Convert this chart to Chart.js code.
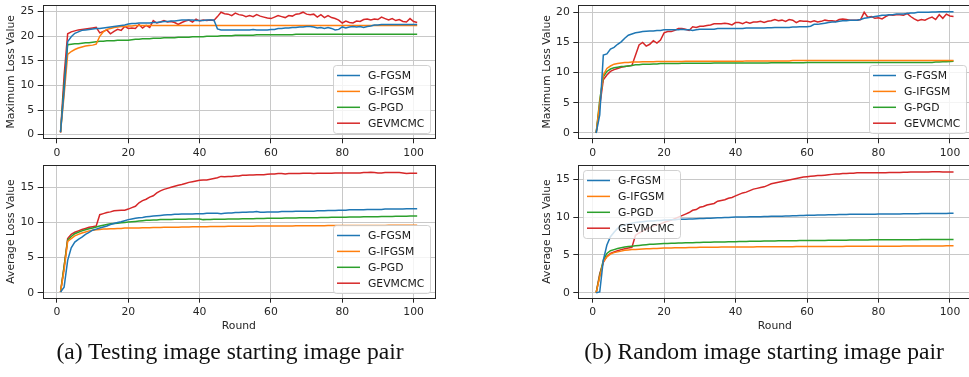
<!DOCTYPE html>
<html><head><meta charset="utf-8">
<script src="https://cdn.jsdelivr.net/npm/chart.js@4.4.1/dist/chart.umd.min.js"></script>
<style>
html,body{margin:0;padding:0;width:969px;height:377px;overflow:hidden;background:#fff}
canvas{position:absolute}
.cap{position:absolute;font-family:"Liberation Serif","Times New Roman",serif;font-size:23.6px;line-height:26px;color:#111;white-space:nowrap;text-align:center}
</style></head><body>
<canvas id="tl" width="445" height="165" style="left:0;top:0;width:445px;height:165px"></canvas>
<canvas id="tr" width="445" height="165" style="left:536px;top:0;width:445px;height:165px"></canvas>
<canvas id="bl" width="445" height="180" style="left:0;top:160px;width:445px;height:180px"></canvas>
<canvas id="br" width="445" height="180" style="left:536px;top:160px;width:445px;height:180px"></canvas>
<div class="cap" style="left:30px;top:338px;width:400px">(a) Testing image starting image pair</div>
<div class="cap" style="left:564px;top:338px;width:400px">(b) Random image starting image pair</div>
<script>
// ---------- data ----------
const seriesNames = ["G-FGSM", "G-IFGSM", "G-PGD", "GEVMCMC"];
const rounds = Array.from({length: 101}, (_, i) => i + 1);
const xTicks = [0, 20, 40, 60, 80, 100];
const yTicksMaxTest = [0, 5, 10, 15, 20, 25];
const yTicksMaxRand = [0, 5, 10, 15, 20];
const yTicksAvg = [0, 5, 10, 15];

// (a) maximum loss, testing image start
const fgsmMaxTest = [
0.5, 9.0, 18.9, 19.9, 20.6, 20.9, 21.2, 21.3, 21.4, 21.5,
21.6, 21.6, 21.7, 21.8, 21.9, 22.0, 22.1, 22.2, 22.3, 22.5,
22.6, 22.6, 22.7, 22.7, 22.7, 22.7, 22.8, 22.8, 22.9, 23.0,
23.0, 23.1, 23.1, 23.2, 23.3, 23.3, 23.3, 23.3, 23.2, 23.2,
23.2, 23.3, 23.3, 23.3, 21.5, 21.3, 21.3, 21.3, 21.3, 21.3,
21.3, 21.3, 21.3, 21.3, 21.4, 21.3, 21.3, 21.3, 21.3, 21.4,
21.4, 21.6, 21.6, 21.7, 21.7, 21.8, 21.8, 21.9, 21.9, 22.0,
22.0, 21.9, 21.7, 21.8, 21.6, 21.8, 21.6, 21.3, 21.4, 21.9,
21.7, 21.9, 22.0, 21.9, 22.0, 21.8, 22.0, 22.1, 22.3, 22.3,
22.4, 22.4, 22.4, 22.4, 22.4, 22.4, 22.4, 22.4, 22.4, 22.4,
22.4];
const ifgsmMaxTest = [
0.5, 8.0, 16.3, 16.9, 17.3, 17.6, 17.8, 18.0, 18.1, 18.2,
18.4, 20.0, 20.9, 21.4, 21.6, 21.8, 21.9, 22.0, 22.0, 22.1,
22.1, 22.2, 22.2, 22.2, 22.2, 22.2, 22.2, 22.2, 22.2, 22.2,
22.2, 22.2, 22.2, 22.2, 22.2, 22.2, 22.2, 22.2, 22.2, 22.2,
22.2, 22.2, 22.2, 22.2, 22.2, 22.2, 22.2, 22.2, 22.2, 22.2,
22.2, 22.2, 22.2, 22.2, 22.2, 22.2, 22.2, 22.2, 22.2, 22.2,
22.2, 22.2, 22.2, 22.2, 22.2, 22.2, 22.2, 22.2, 22.2, 22.2,
22.2, 22.2, 22.2, 22.2, 22.2, 22.2, 22.2, 22.2, 22.2, 22.2,
22.2, 22.2, 22.2, 22.2, 22.2, 22.2, 22.2, 22.2, 22.2, 22.2,
22.2, 22.2, 22.2, 22.2, 22.2, 22.2, 22.2, 22.2, 22.2, 22.2,
22.2];
const pgdMaxTest = [
0.5, 10.0, 18.3, 18.4, 18.5, 18.5, 18.6, 18.7, 18.7, 18.8,
18.9, 19.0, 19.0, 19.1, 19.1, 19.1, 19.2, 19.2, 19.2, 19.2,
19.3, 19.4, 19.4, 19.5, 19.5, 19.5, 19.6, 19.6, 19.6, 19.7,
19.7, 19.7, 19.7, 19.8, 19.8, 19.8, 19.8, 19.9, 19.9, 19.9,
19.9, 20.0, 20.0, 20.0, 20.0, 20.1, 20.1, 20.1, 20.1, 20.2,
20.2, 20.2, 20.2, 20.2, 20.2, 20.3, 20.3, 20.3, 20.3, 20.3,
20.3, 20.3, 20.3, 20.3, 20.3, 20.3, 20.4, 20.4, 20.4, 20.4,
20.4, 20.4, 20.4, 20.4, 20.4, 20.4, 20.4, 20.4, 20.4, 20.4,
20.4, 20.4, 20.4, 20.4, 20.4, 20.4, 20.4, 20.4, 20.4, 20.4,
20.4, 20.4, 20.4, 20.4, 20.4, 20.4, 20.4, 20.4, 20.4, 20.4,
20.4];
const gevMaxTest = [
0.4, 12.0, 20.5, 20.9, 21.1, 21.3, 21.4, 21.5, 21.6, 21.7,
21.8, 20.7, 21.0, 21.3, 20.5, 21.0, 21.4, 21.2, 22.0, 21.6,
21.7, 21.6, 22.4, 21.7, 22.2, 21.8, 23.2, 22.7, 22.9, 23.2,
22.9, 23.0, 22.8, 22.4, 22.8, 23.1, 23.3, 22.9, 23.5, 23.1,
23.3, 23.2, 23.3, 23.2, 24.0, 24.9, 24.6, 24.5, 24.2, 24.7,
24.4, 24.3, 24.0, 24.2, 24.0, 24.4, 24.1, 23.9, 23.7, 23.6,
23.9, 24.2, 24.0, 23.8, 24.2, 24.1, 24.5, 24.6, 24.9, 24.5,
24.4, 24.5, 23.9, 24.4, 23.8, 24.2, 23.8, 23.6, 23.3, 22.7,
23.1, 22.8, 22.7, 23.1, 23.0, 23.4, 23.5, 23.3, 23.5, 23.4,
23.9, 23.6, 23.3, 23.6, 23.2, 23.4, 23.0, 22.9, 23.6, 23.0,
22.8];

// (b) maximum loss, random image start
const fgsmMaxRand = [
0.0, 3.0, 12.9, 13.1, 13.9, 14.2, 14.7, 15.1, 15.7, 16.2,
16.4, 16.6, 16.7, 16.8, 16.85, 16.9, 16.9, 17.0, 17.0, 17.1,
17.1, 17.1, 17.1, 17.1, 17.2, 17.1, 17.1, 17.0, 17.1, 17.2,
17.2, 17.2, 17.2, 17.2, 17.3, 17.3, 17.3, 17.3, 17.3, 17.3,
17.3, 17.3, 17.4, 17.4, 17.4, 17.4, 17.4, 17.4, 17.45, 17.45,
17.5, 17.5, 17.5, 17.5, 17.5, 17.55, 17.55, 17.6, 17.6, 17.6,
17.7, 18.0, 18.0, 18.1, 18.2, 18.3, 18.4, 18.4, 18.5, 18.6,
18.6, 18.7, 18.7, 18.7, 18.8, 19.0, 19.1, 19.2, 19.3, 19.4,
19.5, 19.5, 19.6, 19.6, 19.7, 19.7, 19.7, 19.8, 19.9, 19.9,
20.0, 20.0, 20.0, 20.0, 20.05, 20.05, 20.1, 20.1, 20.1, 20.1,
20.1];
const ifgsmMaxRand = [
0.0, 5.0, 9.6, 10.7, 11.1, 11.4, 11.5, 11.6, 11.7, 11.7,
11.75, 11.75, 11.75, 11.8, 11.8, 11.8, 11.8, 11.85, 11.85, 11.85,
11.85, 11.85, 11.85, 11.85, 11.85, 11.9, 11.9, 11.9, 11.9, 11.9,
11.9, 11.9, 11.9, 11.9, 11.9, 11.9, 11.9, 11.9, 11.9, 11.9,
11.9, 11.9, 11.95, 11.95, 11.95, 11.95, 11.95, 11.95, 11.95, 11.95,
11.95, 11.95, 11.95, 11.95, 11.95, 12.0, 12.0, 12.0, 12.0, 12.0,
12.0, 12.0, 12.0, 12.0, 12.0, 12.0, 12.0, 12.0, 12.0, 12.0,
12.0, 12.0, 12.0, 12.0, 12.0, 12.0, 12.0, 12.0, 12.0, 12.0,
12.0, 12.0, 12.0, 12.0, 12.0, 12.0, 12.0, 12.0, 12.0, 12.0,
12.0, 12.0, 12.0, 12.0, 12.0, 12.0, 12.0, 12.0, 12.0, 12.0,
12.0];
const pgdMaxRand = [
0.0, 5.5, 9.3, 10.2, 10.6, 10.8, 10.9, 11.0, 11.0, 11.1,
11.2, 11.3, 11.3, 11.4, 11.4, 11.4, 11.45, 11.45, 11.5, 11.5,
11.5, 11.5, 11.5, 11.5, 11.55, 11.55, 11.55, 11.55, 11.55, 11.55,
11.55, 11.55, 11.55, 11.6, 11.6, 11.6, 11.6, 11.6, 11.6, 11.6,
11.6, 11.6, 11.6, 11.6, 11.6, 11.6, 11.6, 11.6, 11.6, 11.65,
11.65, 11.65, 11.65, 11.65, 11.65, 11.65, 11.65, 11.65, 11.65, 11.7,
11.7, 11.7, 11.7, 11.7, 11.7, 11.7, 11.7, 11.7, 11.7, 11.7,
11.7, 11.7, 11.7, 11.7, 11.7, 11.7, 11.7, 11.7, 11.7, 11.7,
11.7, 11.7, 11.7, 11.7, 11.7, 11.7, 11.7, 11.7, 11.7, 11.7,
11.7, 11.7, 11.7, 11.7, 11.7, 11.75, 11.75, 11.8, 11.8, 11.85,
11.9];
const gevMaxRand = [
0.0, 4.5, 8.8, 9.6, 10.2, 10.5, 10.7, 10.9, 11.0, 11.1,
11.2, 12.9, 14.6, 15.0, 14.4, 14.7, 15.3, 14.9, 15.4, 16.6,
16.8, 16.8, 17.0, 17.3, 17.3, 17.2, 17.0, 17.6, 17.5, 17.7,
17.7, 17.8, 17.9, 18.1, 18.1, 18.1, 18.2, 18.1, 17.9, 18.3,
18.3, 18.1, 18.4, 18.2, 18.4, 18.4, 18.5, 18.3, 18.5, 18.6,
18.8, 18.6, 18.7, 18.5, 18.8, 18.7, 18.3, 18.6, 18.5, 18.5,
18.4, 18.6, 18.4, 18.5, 18.7, 18.6, 18.6, 18.5, 18.8, 18.9,
18.8, 18.7, 18.7, 18.7, 18.8, 20.0, 19.2, 19.3, 19.0, 19.1,
18.9, 19.3, 19.6, 19.5, 19.6, 19.6, 19.5, 19.8, 19.3, 18.9,
18.6, 18.8, 18.7, 19.0, 19.2, 18.8, 19.6, 19.0, 19.7, 19.4,
19.3];

// (a) average loss, testing image start
const fgsmAvgTest = [
0.1, 0.8, 4.6, 6.4, 7.2, 7.6, 7.9, 8.3, 8.6, 8.9,
9.05, 9.2, 9.35, 9.5, 9.7, 9.85, 10.0, 10.1, 10.25, 10.4,
10.5, 10.6, 10.65, 10.7, 10.8, 10.85, 10.9, 10.95, 11.0, 11.05,
11.1, 11.1, 11.15, 11.15, 11.2, 11.2, 11.2, 11.2, 11.25, 11.25,
11.25, 11.3, 11.3, 11.3, 11.3, 11.25, 11.3, 11.35, 11.35, 11.4,
11.4, 11.45, 11.45, 11.5, 11.5, 11.55, 11.45, 11.45, 11.5, 11.5,
11.5, 11.5, 11.55, 11.55, 11.55, 11.55, 11.6, 11.6, 11.6, 11.6,
11.6, 11.6, 11.65, 11.65, 11.65, 11.7, 11.7, 11.7, 11.75, 11.75,
11.75, 11.8, 11.8, 11.8, 11.8, 11.8, 11.85, 11.85, 11.85, 11.85,
11.85, 11.9, 11.9, 11.9, 11.9, 11.9, 11.9, 11.95, 11.95, 11.95,
11.95];
const ifgsmAvgTest = [
0.1, 3.2, 7.3, 7.7, 8.1, 8.3, 8.5, 8.65, 8.8, 8.9,
8.95, 9.0, 9.05, 9.05, 9.1, 9.1, 9.15, 9.15, 9.2, 9.2,
9.2, 9.2, 9.22, 9.24, 9.25, 9.26, 9.27, 9.28, 9.29, 9.3,
9.3, 9.31, 9.32, 9.33, 9.34, 9.35, 9.36, 9.37, 9.38, 9.4,
9.4, 9.4, 9.41, 9.42, 9.42, 9.43, 9.43, 9.44, 9.44, 9.45,
9.45, 9.46, 9.46, 9.47, 9.47, 9.48, 9.48, 9.49, 9.49, 9.5,
9.5, 9.5, 9.5, 9.51, 9.51, 9.51, 9.52, 9.52, 9.52, 9.53,
9.53, 9.53, 9.54, 9.54, 9.54, 9.55, 9.55, 9.55, 9.55, 9.56,
9.56, 9.56, 9.56, 9.57, 9.57, 9.57, 9.57, 9.58, 9.58, 9.58,
9.58, 9.58, 9.59, 9.59, 9.59, 9.59, 9.59, 9.6, 9.6, 9.6,
9.6];
const pgdAvgTest = [
0.1, 3.7, 7.5, 8.0, 8.4, 8.6, 8.8, 8.95, 9.1, 9.2,
9.35, 9.5, 9.6, 9.7, 9.8, 9.85, 9.9, 9.95, 10.0, 10.05,
10.1, 10.15, 10.2, 10.25, 10.3, 10.3, 10.35, 10.35, 10.4, 10.4,
10.4, 10.42, 10.44, 10.45, 10.46, 10.47, 10.48, 10.49, 10.5, 10.5,
10.4, 10.42, 10.43, 10.44, 10.45, 10.46, 10.47, 10.48, 10.49, 10.5,
10.5, 10.51, 10.52, 10.53, 10.54, 10.55, 10.56, 10.57, 10.58, 10.6,
10.6, 10.6, 10.61, 10.62, 10.63, 10.64, 10.64, 10.65, 10.65, 10.65,
10.66, 10.67, 10.68, 10.69, 10.7, 10.71, 10.72, 10.73, 10.74, 10.75,
10.75, 10.76, 10.77, 10.78, 10.79, 10.8, 10.8, 10.8, 10.81, 10.82,
10.83, 10.84, 10.85, 10.86, 10.87, 10.88, 10.88, 10.89, 10.9, 10.9,
10.9];
const gevAvgTest = [
0.1, 3.7, 7.7, 8.3, 8.6, 8.8, 9.0, 9.15, 9.3, 9.4,
9.5, 11.1, 11.25, 11.4, 11.5, 11.65, 11.7, 11.75, 11.75, 11.9,
12.1, 12.3, 12.8, 13.1, 13.3, 13.6, 13.8, 14.2, 14.5, 14.7,
14.85, 15.0, 15.15, 15.3, 15.4, 15.55, 15.7, 15.8, 15.9, 16.0,
16.05, 16.05, 16.15, 16.25, 16.35, 16.55, 16.5, 16.55, 16.55, 16.6,
16.6, 16.7, 16.7, 16.75, 16.75, 16.8, 16.8, 16.8, 16.85, 16.9,
16.9, 16.95, 16.95, 16.9, 16.95, 16.95, 16.95, 16.95, 17.0, 17.0,
17.0, 16.95, 17.0, 17.0, 17.0, 17.0, 17.0, 17.05, 17.05, 17.05,
17.05, 17.05, 17.05, 17.05, 17.05, 17.1, 17.1, 17.15, 17.1, 17.05,
17.05, 17.1, 17.1, 17.1, 17.1, 17.1, 17.05, 16.95, 17.0, 17.0,
17.0];

// (b) average loss, random image start
const fgsmAvgRand = [
0.0, 0.1, 4.3, 6.3, 7.4, 8.0, 8.5, 8.8, 9.0, 9.1,
9.2, 9.3, 9.35, 9.4, 9.45, 9.5, 9.5, 9.55, 9.55, 9.6,
9.6, 9.65, 9.65, 9.7, 9.7, 9.72, 9.74, 9.76, 9.78, 9.8,
9.82, 9.84, 9.86, 9.88, 9.9, 9.92, 9.94, 9.96, 9.98, 10.0,
10.0, 10.01, 10.02, 10.03, 10.04, 10.05, 10.06, 10.07, 10.08, 10.1,
10.1, 10.11, 10.12, 10.14, 10.15, 10.17, 10.18, 10.2, 10.22, 10.25,
10.25, 10.26, 10.27, 10.28, 10.29, 10.3, 10.31, 10.32, 10.33, 10.35,
10.35, 10.36, 10.36, 10.37, 10.37, 10.38, 10.38, 10.39, 10.39, 10.4,
10.4, 10.4, 10.41, 10.41, 10.42, 10.42, 10.43, 10.43, 10.44, 10.45,
10.45, 10.46, 10.46, 10.47, 10.47, 10.48, 10.48, 10.49, 10.49, 10.5,
10.5];
const ifgsmAvgRand = [
0.0, 2.1, 4.1, 4.75, 5.1, 5.3, 5.4, 5.5, 5.6, 5.65,
5.7, 5.72, 5.75, 5.78, 5.8, 5.82, 5.84, 5.86, 5.88, 5.9,
5.91, 5.92, 5.93, 5.94, 5.95, 5.96, 5.97, 5.98, 5.99, 6.0,
6.0, 6.01, 6.01, 6.02, 6.02, 6.03, 6.03, 6.04, 6.04, 6.05,
6.05, 6.05, 6.06, 6.06, 6.06, 6.07, 6.07, 6.07, 6.08, 6.08,
6.08, 6.08, 6.09, 6.09, 6.09, 6.09, 6.1, 6.1, 6.1, 6.1,
6.1, 6.11, 6.11, 6.11, 6.11, 6.12, 6.12, 6.12, 6.12, 6.12,
6.13, 6.13, 6.13, 6.13, 6.14, 6.14, 6.14, 6.14, 6.15, 6.15,
6.15, 6.15, 6.16, 6.16, 6.16, 6.16, 6.17, 6.17, 6.17, 6.17,
6.18, 6.18, 6.18, 6.18, 6.19, 6.19, 6.19, 6.19, 6.2, 6.2,
6.2];
const pgdAvgRand = [
0.0, 2.3, 4.3, 5.2, 5.55, 5.7, 5.85, 5.95, 6.05, 6.1,
6.15, 6.2, 6.25, 6.3, 6.35, 6.4, 6.42, 6.45, 6.48, 6.5,
6.51, 6.53, 6.55, 6.57, 6.58, 6.6, 6.61, 6.62, 6.63, 6.65,
6.66, 6.67, 6.68, 6.69, 6.7, 6.71, 6.72, 6.73, 6.74, 6.75,
6.76, 6.77, 6.78, 6.79, 6.8, 6.81, 6.82, 6.83, 6.84, 6.85,
6.85, 6.86, 6.86, 6.87, 6.87, 6.88, 6.88, 6.89, 6.89, 6.9,
6.9, 6.91, 6.91, 6.92, 6.92, 6.93, 6.93, 6.94, 6.94, 6.95,
6.95, 6.96, 6.96, 6.97, 6.97, 6.98, 6.98, 6.99, 6.99, 7.0,
7.0, 7.0, 7.0, 7.01, 7.01, 7.01, 7.01, 7.02, 7.02, 7.02,
7.02, 7.03, 7.03, 7.03, 7.03, 7.04, 7.04, 7.04, 7.05, 7.05,
7.05];
const gevAvgRand = [
0.0, 2.5, 4.0, 4.8, 5.2, 5.4, 5.55, 5.7, 5.8, 5.9,
6.0, 7.6, 7.9, 8.15, 8.4, 8.6, 8.8, 9.0, 9.1, 9.3,
9.45, 9.6, 9.8, 10.0, 10.2, 10.4, 10.6, 10.9, 11.0, 11.3,
11.4, 11.6, 11.7, 11.8, 12.1, 12.2, 12.3, 12.5, 12.6, 12.8,
13.0, 13.2, 13.3, 13.5, 13.7, 13.8, 13.9, 14.0, 14.2, 14.4,
14.5, 14.6, 14.7, 14.8, 14.9, 15.0, 15.1, 15.2, 15.3, 15.35,
15.4, 15.45, 15.5, 15.5, 15.55, 15.6, 15.65, 15.7, 15.7, 15.75,
15.75, 15.8, 15.8, 15.85, 15.85, 15.85, 15.85, 15.85, 15.85, 15.85,
15.88, 15.88, 15.9, 15.9, 15.9, 15.9, 15.92, 15.92, 15.95, 15.95,
15.95, 15.97, 15.97, 15.98, 16.0, 16.0, 16.0, 15.98, 15.97, 15.95,
15.95];

// ---------- styling ----------
const colors = ["#1f77b4", "#ff7f0e", "#2ca02c", "#d62728"];
const FS = 10.8;
Chart.defaults.font.family = "'DejaVu Sans', sans-serif";
Chart.defaults.font.size = FS;
Chart.defaults.color = "#262626";

const framePlugin = {
  id: "frame",
  afterDatasetsDraw(chart) {
    const a = chart.chartArea, ctx = chart.ctx;
    ctx.save();
    ctx.strokeStyle = "#262626";
    ctx.lineWidth = 1;
    ctx.strokeRect(Math.round(a.left) + 0.5, Math.round(a.top) + 0.5,
                   Math.round(a.right) - Math.round(a.left), Math.round(a.bottom) - Math.round(a.top));
    ctx.restore();
  }
};

const legendPlugin = {
  id: "boxLegend",
  afterDraw(chart, args, opts) {
    const a = chart.chartArea, ctx = chart.ctx;
    const w = 97, h = 68, m = 5, r = 3;
    let x0, y0;
    if (opts.corner === "tl") { x0 = a.left + m; y0 = a.top + m; }
    else { x0 = a.right - m - w; y0 = a.bottom - m - h; }
    x0 = Math.round(x0) + 0.5; y0 = Math.round(y0) + 0.5;
    ctx.save();
    ctx.beginPath();
    ctx.moveTo(x0 + r, y0);
    ctx.lineTo(x0 + w - r, y0); ctx.arcTo(x0 + w, y0, x0 + w, y0 + r, r);
    ctx.lineTo(x0 + w, y0 + h - r); ctx.arcTo(x0 + w, y0 + h, x0 + w - r, y0 + h, r);
    ctx.lineTo(x0 + r, y0 + h); ctx.arcTo(x0, y0 + h, x0, y0 + h - r, r);
    ctx.lineTo(x0, y0 + r); ctx.arcTo(x0, y0, x0 + r, y0, r);
    ctx.closePath();
    ctx.fillStyle = "rgba(255,255,255,0.8)";
    ctx.fill();
    ctx.strokeStyle = "rgba(204,204,204,0.9)";
    ctx.lineWidth = 1;
    ctx.stroke();
    ctx.font = FS + "px 'DejaVu Sans'";
    ctx.textBaseline = "middle";
    ctx.textAlign = "left";
    chart.data.datasets.forEach((ds, i) => {
      const y = y0 + 10 + i * 15.9;
      ctx.strokeStyle = ds.borderColor;
      ctx.lineWidth = 1.5;
      ctx.beginPath();
      ctx.moveTo(x0 + 3.5, y); ctx.lineTo(x0 + 26.5, y);
      ctx.stroke();
      ctx.fillStyle = "#1a1a1a";
      ctx.fillText(ds.label, x0 + 34.5, y + 0.5);
    });
    ctx.restore();
  }
};

function makeChart(id, series, yTicks, yMin, yMax, yTitle, xTitle, corner, yW, padR, padT, xH) {
  const datasets = series.map((vals, i) => ({
    label: seriesNames[i],
    data: rounds.map((r, k) => ({x: r, y: vals[k]})),
    borderColor: colors[i],
    backgroundColor: colors[i],
    borderWidth: 1.5,
    pointRadius: 0,
    tension: 0,
    fill: false
  }));
  const grid = {color: "#c8c8c8", lineWidth: 1, drawTicks: true, tickLength: 5, tickColor: "#262626", tickWidth: 1};
  return new Chart(document.getElementById(id), {
    type: "line",
    data: {datasets},
    options: {
      responsive: false,
      animation: false,
      events: [],
      layout: {padding: {left: 0, top: padT, right: padR, bottom: 0}},
      plugins: {legend: {display: false}, tooltip: {enabled: false}, boxLegend: {corner}},
      scales: {
        x: {
          type: "linear", min: -4, max: 106,
          afterBuildTicks: s => { s.ticks = xTicks.map(v => ({value: v})); },
          afterFit: s => { s.height = xH; s.paddingLeft = 0; s.paddingRight = 0; s.paddingTop = 0; s.paddingBottom = 0; },
          ticks: {padding: 3, maxRotation: 0, autoSkip: false, color: "#262626"},
          grid, border: {display: false},
          title: {display: !!xTitle, text: xTitle || "", padding: {top: 0, bottom: 7.5}, color: "#262626"}
        },
        y: {
          type: "linear", min: yMin, max: yMax,
          afterBuildTicks: s => { s.ticks = yTicks.map(v => ({value: v})); },
          afterFit: s => { s.width = yW; s.paddingLeft = 0; s.paddingRight = 0; s.paddingTop = 0; s.paddingBottom = 0; },
          ticks: {padding: 3.5, autoSkip: false, color: "#262626"},
          grid, border: {display: false},
          title: {display: true, text: yTitle, padding: {top: 4.5, bottom: 0}, color: "#262626"}
        }
      }
    },
    plugins: [framePlugin, legendPlugin]
  });
}

makeChart("tl", [fgsmMaxTest, ifgsmMaxTest, pgdMaxTest, gevMaxTest], yTicksMaxTest, -0.75, 26.3,
  "Maximum Loss Value", null, "br", 42.7, 10, 5.3, 26.7);
makeChart("tr", [fgsmMaxRand, ifgsmMaxRand, pgdMaxRand, gevMaxRand], yTicksMaxRand, -0.88, 21.16,
  "Maximum Loss Value", null, "br", 42.3, 9.6, 5.3, 26.7);
makeChart("bl", [fgsmAvgTest, ifgsmAvgTest, pgdAvgTest, gevAvgTest], yTicksAvg, -0.71, 18.13,
  "Average Loss Value", "Round", "br", 42.7, 10, 5.3, 42.3);
makeChart("br", [fgsmAvgRand, ifgsmAvgRand, pgdAvgRand, gevAvgRand], yTicksAvg, -0.66, 16.85,
  "Average Loss Value", "Round", "tl", 42.3, 9.6, 5.3, 42.3);
</script>
</body></html>
